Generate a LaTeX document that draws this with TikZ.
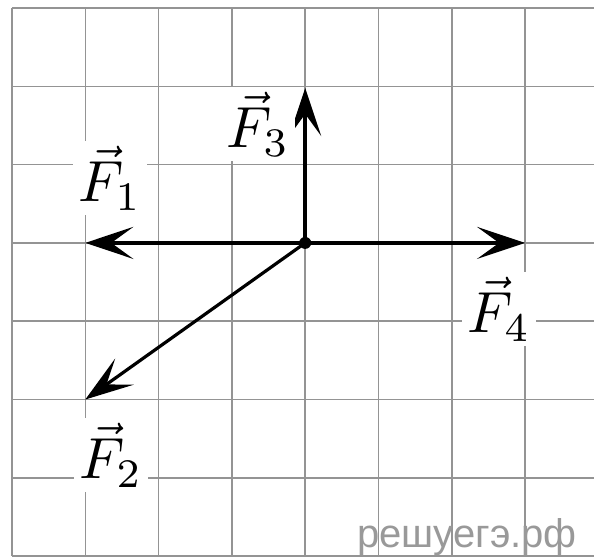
\documentclass[tikz,border=0pt]{standalone}
\usepackage{graphicx}
\usepackage{fontspec}
\newfontfamily\wmfont{Liberation Sans}
\usetikzlibrary{arrows.meta}
\newcommand{\biglbl}[1]{\scalebox{5.8}{$#1$}}
\begin{document}
\begin{tikzpicture}[x=1pt,y=-1pt,
  gridline/.style={draw=black!42,line width=1.6pt},
  force/.style={line width=3.6pt,-{Stealth[length=48pt,width=32pt,inset=22pt]}},
  lbl/.style={fill=white,inner sep=5pt}]
\useasboundingbox (0,0) rectangle (594,557);
\fill[white] (0,0) rectangle (594,557);
\foreach \i in {0,...,7} {
  \draw[gridline] ({12+73.3*\i},8) -- ({12+73.3*\i},556);
  \draw[gridline] (12,{8+78.3*\i}) -- (594,{8+78.3*\i});
}
\node[font=\wmfont\fontsize{40}{40}\selectfont, text=black!40, anchor=base west, inner sep=0pt] (wm) at (357,547) {решуегэ.рф};
\coordinate (O) at (305.2,242.9);
\coordinate (t1) at (85.3,242.9);
\coordinate (t2) at (85.3,399.5);
\coordinate (t3) at (305.2,88);
\coordinate (t4) at (525.1,242.9);
\draw[force,line width=4.2pt] (O) -- (t1);
\draw[force,line width=4.2pt] (O) -- (t4);
\draw[force] (O) -- (t3);
\draw[force,line width=3.2pt] (O) -- (t2);
\fill (O) circle (6pt);
\node[lbl] (f1) at (110,178) {\biglbl{\vec{F}_1}};
\node[lbl] (f3) at (258,124) {\biglbl{\vec{F}_3}};
\node[lbl] (f4) at (499,309) {\biglbl{\vec{F}_4}};
\node[lbl] (f2) at (111,455) {\biglbl{\vec{F}_2}};
\end{tikzpicture}
\end{document}
